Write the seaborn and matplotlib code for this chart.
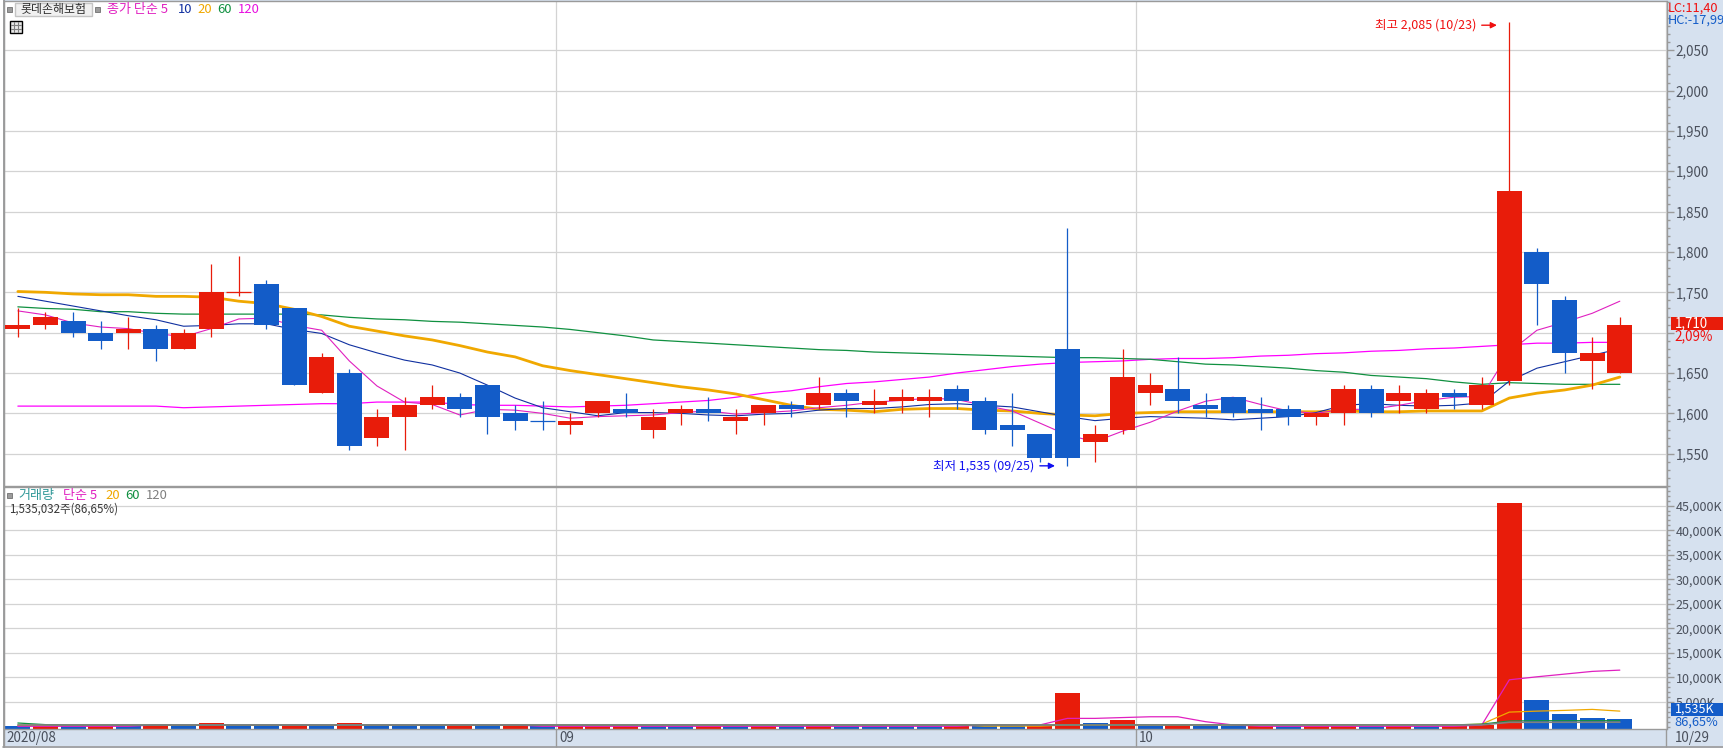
import numpy as np
import pandas as pd
import matplotlib
matplotlib.use('Agg')
import matplotlib.pyplot as plt
import seaborn as sns
from matplotlib.patches import Rectangle
from matplotlib.ticker import FixedLocator, MultipleLocator
from matplotlib.transforms import ScaledTranslation

# candles (59 sessions, 2020/08/03 - 10/29)
opens = [1705, 1710, 1715, 1700, 1700, 1705, 1680, 1705, 1750, 1760,
         1730, 1625, 1650, 1570, 1595, 1610, 1620, 1635, 1600, 1590,
         1585, 1600, 1605, 1580, 1600, 1605, 1590, 1600, 1610, 1610,
         1625, 1610, 1615, 1615, 1630, 1615, 1585, 1575, 1680, 1565,
         1580, 1625, 1630, 1610, 1620, 1605, 1605, 1595, 1600, 1630,
         1615, 1605, 1625, 1610, 1640, 1800, 1740, 1665, 1650]
highs = [1730, 1725, 1725, 1715, 1720, 1710, 1705, 1785, 1795, 1765,
         1730, 1675, 1655, 1605, 1620, 1635, 1625, 1635, 1610, 1615,
         1600, 1615, 1625, 1605, 1610, 1620, 1605, 1610, 1615, 1645,
         1630, 1630, 1630, 1630, 1635, 1620, 1625, 1575, 1830, 1585,
         1680, 1650, 1670, 1625, 1620, 1620, 1610, 1600, 1635, 1635,
         1635, 1630, 1630, 1645, 2085, 1805, 1745, 1695, 1720]
lows = [1695, 1705, 1695, 1680, 1680, 1665, 1680, 1695, 1745, 1705,
        1635, 1625, 1555, 1560, 1555, 1605, 1595, 1575, 1580, 1580,
        1575, 1595, 1595, 1570, 1585, 1590, 1575, 1585, 1595, 1605,
        1595, 1600, 1600, 1595, 1605, 1575, 1560, 1540, 1535, 1540,
        1575, 1610, 1600, 1595, 1595, 1580, 1585, 1585, 1585, 1595,
        1600, 1600, 1605, 1605, 1635, 1710, 1650, 1630, 1650]
closes = [1710, 1720, 1700, 1690, 1705, 1680, 1700, 1750, 1750, 1710,
          1635, 1670, 1560, 1595, 1610, 1620, 1605, 1595, 1590, 1590,
          1590, 1615, 1600, 1595, 1605, 1600, 1595, 1610, 1605, 1625,
          1615, 1615, 1620, 1620, 1615, 1580, 1580, 1545, 1545, 1575,
          1645, 1635, 1615, 1605, 1600, 1600, 1595, 1600, 1630, 1600,
          1625, 1625, 1620, 1635, 1875, 1760, 1675, 1675, 1710]

ma5 = [1727, 1722, 1712, 1707, 1705, 1699, 1695, 1705, 1717, 1718,
       1709, 1703, 1665, 1634, 1614, 1611, 1598, 1605, 1604, 1600,
       1594, 1596, 1597, 1598, 1601, 1603, 1599, 1601, 1603, 1607,
       1610, 1614, 1616, 1619, 1617, 1610, 1603, 1588, 1573, 1565,
       1578, 1589, 1603, 1615, 1620, 1611, 1603, 1600, 1605, 1605,
       1610, 1616, 1620, 1621, 1676, 1703, 1713, 1724, 1739]
ma10 = [1745, 1739, 1733, 1727, 1721, 1716, 1708, 1709, 1711, 1711,
        1704, 1699, 1685, 1675, 1666, 1660, 1650, 1635, 1619, 1607,
        1602, 1597, 1601, 1601, 1600, 1598, 1597, 1599, 1600, 1604,
        1606, 1606, 1608, 1611, 1612, 1610, 1608, 1602, 1596, 1591,
        1594, 1596, 1595, 1594, 1592, 1594, 1596, 1601, 1610, 1612,
        1610, 1609, 1610, 1613, 1640, 1656, 1664, 1672, 1680]
ma20 = [1751, 1750, 1748, 1747, 1747, 1745, 1745, 1744, 1739, 1736,
        1729, 1720, 1708, 1702, 1696, 1691, 1684, 1676, 1670, 1659,
        1653, 1648, 1643, 1638, 1633, 1629, 1624, 1617, 1610, 1605,
        1604, 1602, 1605, 1606, 1606, 1604, 1603, 1600, 1598, 1597,
        1600, 1601, 1602, 1602, 1602, 1602, 1602, 1602, 1603, 1602,
        1602, 1603, 1603, 1603, 1619, 1625, 1629, 1635, 1645]
ma60 = [1732, 1730, 1729, 1726, 1726, 1724, 1723, 1723, 1723, 1723,
        1723, 1722, 1719, 1717, 1716, 1714, 1713, 1711, 1709, 1707,
        1704, 1700, 1696, 1691, 1689, 1687, 1685, 1683, 1681, 1679,
        1678, 1676, 1675, 1674, 1673, 1672, 1671, 1670, 1669, 1669,
        1668, 1667, 1664, 1661, 1660, 1658, 1656, 1653, 1651, 1647,
        1645, 1643, 1639, 1636, 1638, 1637, 1636, 1636, 1636]
ma120 = [1609, 1609, 1609, 1609, 1609, 1609, 1607, 1608, 1609, 1610,
         1611, 1612, 1612, 1614, 1614, 1614, 1611, 1610, 1610, 1609,
         1608, 1609, 1610, 1612, 1614, 1616, 1620, 1625, 1628, 1633,
         1637, 1639, 1642, 1645, 1650, 1654, 1658, 1661, 1663, 1664,
         1665, 1667, 1668, 1668, 1669, 1671, 1672, 1674, 1675, 1677,
         1678, 1680, 1681, 1683, 1685, 1687, 1687, 1688, 1688]

# volume in thousands of shares, colour follows the change from the session before
volumes = [170, 200, 170, 190, 165, 210, 180, 730, 270, 190,
           230, 200, 700, 300, 240, 185, 205, 180, 195, 170,
           180, 195, 210, 180, 170, 190, 175, 195, 180, 250,
           215, 180, 170, 155, 180, 170, 155, 180, 6840, 730,
           1340, 210, 230, 205, 180, 195, 175, 180, 195, 175,
           180, 170, 175, 360, 45480, 5420, 2570, 1750, 1535]
vol_ma5 = [60, 60, 60, 60, 60, 330, 330, 330, 330, 330,
           330, 330, 330, 330, 330, 330, 330, 330, 330, 60,
           60, 60, 60, 60, 60, 60, 60, 60, 60, 60,
           60, 60, 60, 60, 60, 330, 330, 330, 1670, 1670,
           1840, 2000, 2000, 1000, 330, 60, 60, 60, 60, 60,
           60, 60, 60, 300, 9530, 10140, 10690, 11240, 11500]
vol_ma20 = [250, 250, 250, 250, 250, 250, 250, 250, 250, 250,
            250, 250, 250, 250, 250, 250, 250, 250, 250, 250,
            250, 250, 250, 330, 330, 330, 330, 330, 330, 330,
            330, 330, 330, 330, 330, 100, 100, 100, 330, 330,
            330, 330, 330, 330, 330, 330, 330, 330, 330, 330,
            330, 330, 330, 500, 2950, 3150, 3300, 3500, 3150]
vol_ma60 = [730, 400, 330, 330, 330, 330, 330, 330, 330, 330,
            330, 330, 330, 330, 330, 330, 330, 330, 330, 330,
            330, 330, 330, 330, 330, 330, 330, 330, 330, 330,
            330, 330, 330, 330, 330, 330, 330, 330, 350, 350,
            350, 350, 350, 350, 350, 350, 350, 350, 350, 350,
            350, 350, 350, 500, 1140, 1200, 1200, 1200, 1200]
vol_ma120 = [330, 330, 330, 330, 330, 330, 330, 330, 330, 330,
             330, 330, 330, 330, 330, 330, 330, 330, 330, 330,
             330, 330, 330, 330, 330, 330, 330, 330, 330, 330,
             330, 330, 330, 330, 330, 330, 330, 330, 330, 330,
             330, 330, 330, 330, 330, 330, 330, 330, 330, 330,
             330, 330, 330, 340, 875, 880, 885, 890, 900]

month_labels = ['2020/08', '09', '10', '10/29']
red_doji = [8]

RED = '#e81c0a'
BLUE = '#135cc8'
W, H = 1723, 748
STRIP = '#d6e1ef'
GREY = '#9a9a9a'
GRID = '#d3d3d3'
TICK_TEXT = '#4a505c'
BODY_W = 0.905

sns.set_theme(style='white')
plt.rcParams['font.family'] = ['Liberation Sans Narrow', 'Noto Sans CJK KR', 'DejaVu Sans']
plt.rcParams['font.size'] = 9.7

n = len(closes)
df = pd.DataFrame({'i': np.arange(n), 'open': opens, 'high': highs, 'low': lows, 'close': closes,
                   'volume': volumes})
df['up'] = df['close'] > df['open']
df.loc[red_doji, 'up'] = True
df['color'] = np.where(df['up'], RED, BLUE)
df['vol_up'] = df['volume'].diff().fillna(-1) > 0


def box(x0, y0, x1, y1):
    # pixel box of the reference -> figure fractions
    return [x0 / W, 1 - y1 / H, (x1 - x0) / W, (y1 - y0) / H]


fig = plt.figure(figsize=(W / 100, H / 100), dpi=100, facecolor=STRIP)
ax1 = fig.add_axes(box(3.5, 1, 1666.5, 486))
ax2 = fig.add_axes(box(3.5, 486.5, 1666.5, 728.6))
xlim = (-0.52, 59.69)
month_pos = [xlim[0], 19.5, 40.5, xlim[1]]

# moving averages under the candles
for vals, col, lw in [(ma120, '#ff00ff', 0.9), (ma60, '#109040', 0.9), (ma20, '#f0a800', 2.0),
                      (ma10, '#1030a0', 0.8), (ma5, '#e020c0', 0.8)]:
    sns.lineplot(x=df['i'], y=vals, color=col, lw=lw, errorbar=None, ax=ax1, zorder=2)

ax1.vlines(df['i'], df['low'], df['high'], colors=df['color'], lw=0.9, zorder=3)
body = df[df['open'] != df['close']]
ax1.bar(body['i'], (body['close'] - body['open']).abs(), bottom=body[['open', 'close']].min(axis=1),
        width=BODY_W, color=body['color'], lw=0, zorder=4)
doji = df[df['open'] == df['close']]
ax1.hlines(doji['close'], doji['i'] - BODY_W / 2, doji['i'] + BODY_W / 2, colors=doji['color'], lw=0.9, zorder=4)

ax1.set_xlim(xlim)
ax1.set_ylim(1510, 2111)
ax1.set_xlabel('')
ax1.set_ylabel('')

# high / low markers
hi = int(df['high'].idxmax())
lo = int(df['low'].idxmin())
for idx, price, txt, col, dy in [(hi, highs[hi], f'최고 {highs[hi]:,} (10/23)', '#f01010', -4),
                                 (lo, lows[lo], f'최저 {lows[lo]:,} (09/25)', '#1010f0', 0)]:
    ax1.text(idx - 1.2, price + dy, txt, color=col, ha='right', va='center', fontsize=9, zorder=6)
    ax1.annotate('', xy=(idx - 0.45, price + dy), xytext=(idx - 1, price + dy),
                 arrowprops=dict(arrowstyle='-|>', color=col, lw=1, mutation_scale=9, shrinkA=0, shrinkB=0),
                 zorder=6)

# volume panel
vol_df = df.assign(kind=np.where(df['vol_up'], 'up', 'down'))
sns.barplot(data=vol_df, x='i', y='volume', hue='kind', palette={'up': RED, 'down': BLUE}, native_scale=True,
            dodge=False, width=BODY_W, legend=False, saturation=1, lw=0, ax=ax2, zorder=2)
vol_floor = -410
ax2.set_ylim(vol_floor, 48900)
ax2.set_xlim(xlim)
for p in ax2.patches:
    # bars run down to the panel edge
    p.set_height(p.get_height() - vol_floor)
    p.set_y(vol_floor)
for vals, col, lw in [(vol_ma20, '#f0a800', 0.9), (vol_ma5, '#e020c0', 0.9), (vol_ma60, '#109040', 0.9),
                      (vol_ma120, '#808080', 1.2)]:
    sns.lineplot(x=df['i'], y=vals, color=col, lw=lw, errorbar=None, ax=ax2, zorder=3)
ax2.set_xlabel('')
ax2.set_ylabel('')

price_ticks = list(range(1550, 2051, 50))
vol_ticks = list(range(5000, 45001, 5000))
for ax, ticks, labels, minor, size in [
        (ax1, price_ticks, ['' if v == 1700 else f'{v:,}' for v in price_ticks], 10, 9.7),
        (ax2, vol_ticks, [f'{v:,}K' for v in vol_ticks], 1000, 9.0)]:
    ax.set_facecolor('white')
    ax.yaxis.tick_right()
    ax.set_yticks(ticks)
    ax.set_yticklabels(labels)
    ax.yaxis.set_minor_locator(MultipleLocator(minor))
    ax.tick_params(axis='y', which='major', length=5, width=1, color=GREY, labelcolor=TICK_TEXT,
                   labelsize=size, pad=1.5, right=True)
    ax.tick_params(axis='y', which='minor', length=2.5, width=1, color=GREY, right=True)
    ax.grid(True, axis='y', which='major', color=GRID, lw=0.9, zorder=0)
    ax.set_axisbelow(True)
    ax.xaxis.set_major_locator(FixedLocator(month_pos))
    ax.grid(True, axis='x', which='major', color=GRID, lw=0.9, zorder=0)
    for sp in ax.spines.values():
        sp.set_visible(True)
        sp.set_color(GREY)
        sp.set_linewidth(1.0)

ax1.tick_params(axis='x', length=0, labelbottom=False)
ax2.set_xticks(month_pos)
ax2.set_xticklabels(month_labels, ha='left', color=TICK_TEXT, fontsize=9.7)
ax2.tick_params(axis='x', length=13, width=1, color=GREY, pad=-11, bottom=True)
shift = ScaledTranslation(2 / 72, 0, fig.dpi_scale_trans)
for lab in ax2.get_xticklabels()[:3]:
    lab.set_transform(lab.get_transform() + shift)
for lab in ax2.get_xticklabels()[3:]:
    lab.set_transform(lab.get_transform() + ScaledTranslation(6 / 72, 0, fig.dpi_scale_trans))

# window chrome, legends and last-value tags in pixel coordinates
ov = fig.add_axes([0, 0, 1, 1], zorder=5)
ov.set_xlim(0, W)
ov.set_ylim(H, 0)
ov.axis('off')
ov.add_patch(Rectangle((0, 0), 3, H, fc='white', lw=0))
ov.plot([3, W], [747.3, 747.3], color=GREY, lw=1.2)
ov.plot([3.5, 3.5], [0, 747], color=GREY, lw=1.3)


def square(x, y):
    ov.add_patch(Rectangle((x - 2.5, y - 2.5), 5, 5, fc='#9c9c9c', ec='#707070', lw=0.6))


square(9, 9)
ov.add_patch(Rectangle((14.5, 3), 77, 13, fc='#f0f0f0', ec='#c4c4c4', lw=1))
ov.text(53, 9.5, '롯데손해보험', ha='center', va='center', fontsize=8.6, color='#303030')
square(97, 9)
for x, txt, col in [(107, '종가 단순 5', '#e020c0'), (178, '10', '#1030a0'), (197, '20', '#f0a800'),
                    (217, '60', '#109040'), (238, '120', '#e810e0')]:
    ov.text(x, 9.5, txt, ha='left', va='center', fontsize=9.4, color=col)

# table icon
ov.add_patch(Rectangle((9.5, 20.5), 12.5, 12.5, fc='#e8e8e8', ec='black', lw=1))
for g in (13.5, 18):
    ov.plot([g, g], [22, 32], color='#808080', lw=0.8)
for g in (24.5, 28.5):
    ov.plot([11, 21], [g, g], color='#808080', lw=0.8)

square(9, 495)
for x, txt, col in [(18, '거래량', '#309898'), (63, '단순 5', '#e020c0'), (105, '20', '#f0a800'),
                    (125, '60', '#109040'), (146, '120', '#808080')]:
    ov.text(x, 495.5, txt, ha='left', va='center', fontsize=9.4, color=col)
ov.text(9, 509.5, f'{volumes[-1]},032주(86,65%)'.replace('1535', '1,535'), ha='left', va='center',
        fontsize=8.3, color='#383838')

ov.text(1668, 8, 'LC:11,40', color='#f01010', ha='left', va='center', fontsize=9.2)
ov.text(1668, 20.5, 'HC:-17,99', color=BLUE, ha='left', va='center', fontsize=9.2)

ov.add_patch(Rectangle((1671, 317), 52, 13, fc=RED, lw=0))
ov.text(1675, 323.5, f'{closes[-1]:,}', color='white', ha='left', va='center', fontsize=9.7)
ov.text(1674, 336, '2,09%', color='#f01010', ha='left', va='center', fontsize=9.7)
ov.add_patch(Rectangle((1671, 703), 52, 13, fc=BLUE, lw=0))
ov.text(1675, 709.5, f'{volumes[-1]:,}K', color='white', ha='left', va='center', fontsize=9)
ov.text(1674, 722, '86,65%', color=BLUE, ha='left', va='center', fontsize=9.2)

fig.savefig('out.png', dpi=100, facecolor=fig.get_facecolor())
